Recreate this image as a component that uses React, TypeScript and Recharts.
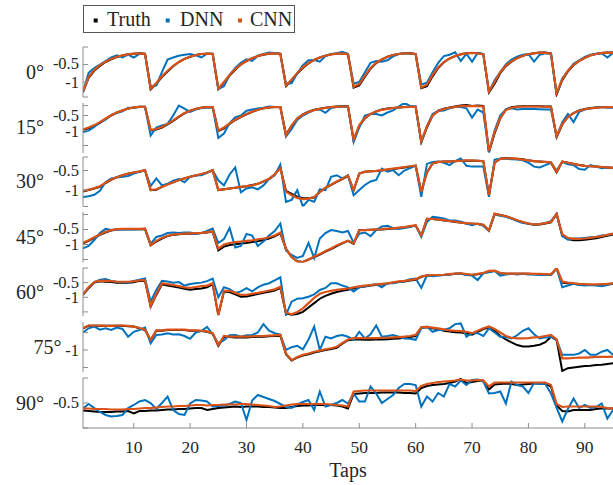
import { LineChart, Line, XAxis, YAxis } from 'recharts';

const FONT = "'Liberation Serif', 'Times New Roman', serif";
const AXIS = '#8c8c8c';
const TEXT = '#262626';
const CHART_W = 613;
const YAXIS_W = 83;

const angleLabels = ['0°', '15°', '30°', '45°', '60°', '75°', '90°'];
const seriesNames = ['Truth', 'DNN', 'CNN'];
const seriesColors = ['#000000', '#0072BD', '#D95319'];
const xTicks = [10, 20, 30, 40, 50, 60, 70, 80, 90];
const tickLabels = [[-0.5, -1], [-0.5, -1], [-0.5, -1], [-0.5, -1], [-0.5, -1], [-1], [-0.5]];

// 0 deg
const truth0 = [
  -1.28, -0.88, -0.68, -0.54, -0.43, -0.35, -0.29, -0.24, -0.21, -0.19, -0.18, -0.19,
  -1.21, -1.05, -0.86, -0.70, -0.55, -0.43, -0.34, -0.28, -0.23, -0.20, -0.19, -0.19,
  -1.20, -1.02, -0.82, -0.65, -0.50, -0.40, -0.32, -0.26, -0.22, -0.19, -0.18, -0.19,
  -1.12, -0.95, -0.76, -0.60, -0.47, -0.37, -0.30, -0.25, -0.21, -0.19, -0.18, -0.20,
  -1.16, -1.10, -0.85, -0.62, -0.46, -0.36, -0.28, -0.23, -0.20, -0.18, -0.17, -0.20,
  -1.18, -1.12, -0.84, -0.60, -0.44, -0.33, -0.26, -0.21, -0.18, -0.17, -0.17, -0.20,
  -1.30, -1.05, -0.75, -0.55, -0.42, -0.32, -0.25, -0.21, -0.18, -0.16, -0.16, -0.18,
  -1.36, -0.95, -0.70, -0.52, -0.40, -0.31, -0.24, -0.20, -0.17, -0.16, -0.16,
];
const dnn0 = [
  -1.30, -0.74, -0.60, -0.50, -0.40, -0.30, -0.24, -0.30, -0.22, -0.30, -0.20, -0.20,
  -1.12, -1.10, -0.72, -0.36, -0.30, -0.25, -0.22, -0.20, -0.24, -0.30, -0.19, -0.20,
  -1.20, -1.12, -0.80, -0.60, -0.45, -0.35, -0.40, -0.25, -0.20, -0.16, -0.17, -0.20,
  -1.05, -1.04, -0.75, -0.52, -0.38, -0.37, -0.42, -0.26, -0.20, -0.18, -0.14, -0.20,
  -1.05, -1.00, -0.72, -0.45, -0.40, -0.42, -0.38, -0.27, -0.20, -0.18, -0.19, -0.20,
  -1.07, -1.02, -0.72, -0.45, -0.26, -0.22, -0.15, -0.40, -0.20, -0.42, -0.17, -0.20,
  -1.28, -0.95, -0.72, -0.50, -0.36, -0.28, -0.22, -0.20, -0.42, -0.22, -0.18, -0.20,
  -1.35, -0.90, -0.68, -0.48, -0.38, -0.28, -0.22, -0.19, -0.18, -0.30, -0.17,
];
const cnn0 = [
  -1.27, -0.86, -0.66, -0.52, -0.42, -0.34, -0.28, -0.24, -0.21, -0.19, -0.19, -0.20,
  -1.20, -1.03, -0.84, -0.68, -0.54, -0.43, -0.34, -0.28, -0.23, -0.20, -0.19, -0.20,
  -1.19, -1.00, -0.80, -0.63, -0.50, -0.40, -0.32, -0.26, -0.21, -0.19, -0.18, -0.20,
  -1.10, -0.93, -0.74, -0.58, -0.46, -0.37, -0.30, -0.25, -0.21, -0.19, -0.18, -0.21,
  -1.14, -1.06, -0.82, -0.60, -0.45, -0.35, -0.28, -0.23, -0.20, -0.18, -0.18, -0.20,
  -1.16, -1.08, -0.80, -0.58, -0.43, -0.33, -0.26, -0.21, -0.18, -0.17, -0.18, -0.21,
  -1.27, -1.00, -0.72, -0.53, -0.41, -0.32, -0.25, -0.20, -0.18, -0.16, -0.17, -0.19,
  -1.32, -0.92, -0.68, -0.51, -0.40, -0.31, -0.24, -0.20, -0.17, -0.16, -0.17,
];

// 15 deg
const truth15 = [
  -0.98, -0.93, -0.85, -0.75, -0.62, -0.50, -0.40, -0.33, -0.27, -0.23, -0.21, -0.21,
  -1.00, -0.97, -0.90, -0.80, -0.68, -0.55, -0.43, -0.34, -0.28, -0.24, -0.22, -0.22,
  -1.02, -0.93, -0.78, -0.65, -0.55, -0.46, -0.38, -0.31, -0.26, -0.23, -0.22, -0.22,
  -1.13, -0.85, -0.60, -0.46, -0.37, -0.31, -0.27, -0.24, -0.22, -0.20, -0.19, -0.19,
  -1.33, -0.85, -0.60, -0.45, -0.36, -0.30, -0.27, -0.25, -0.23, -0.22, -0.21, -0.21,
  -1.39, -0.90, -0.50, -0.34, -0.27, -0.23, -0.20, -0.17, -0.15, -0.18, -0.17, -0.18,
  -1.72, -1.10, -0.60, -0.30, -0.22, -0.20, -0.19, -0.19, -0.19, -0.19, -0.20, -0.20,
  -1.22, -0.80, -0.55, -0.42, -0.33, -0.28, -0.25, -0.23, -0.22, -0.22, -0.22,
];
const dnn15 = [
  -1.05, -1.00, -0.88, -0.72, -0.64, -0.48, -0.42, -0.36, -0.24, -0.25, -0.21, -0.22,
  -1.17, -0.90, -0.83, -0.78, -0.50, -0.17, -0.27, -0.38, -0.30, -0.25, -0.24, -0.23,
  -1.25, -1.10, -0.75, -0.56, -0.50, -0.34, -0.30, -0.27, -0.24, -0.20, -0.22, -0.22,
  -1.20, -0.95, -0.65, -0.50, -0.40, -0.32, -0.30, -0.41, -0.25, -0.22, -0.21, -0.21,
  -1.38, -0.90, -0.50, -0.45, -0.45, -0.50, -0.40, -0.33, -0.20, -0.08, -0.18, -0.20,
  -1.40, -0.85, -0.45, -0.35, -0.33, -0.26, -0.22, -0.22, -0.26, -0.57, -0.30, -0.40,
  -1.72, -1.00, -0.50, -0.30, -0.26, -0.30, -0.28, -0.28, -0.28, -0.29, -0.30, -0.30,
  -1.20, -0.72, -0.45, -0.72, -0.38, -0.30, -0.27, -0.23, -0.22, -0.24, -0.24,
];
const cnn15 = [
  -0.96, -0.90, -0.82, -0.72, -0.60, -0.49, -0.40, -0.33, -0.27, -0.23, -0.21, -0.21,
  -0.98, -0.95, -0.88, -0.78, -0.66, -0.53, -0.42, -0.34, -0.28, -0.24, -0.22, -0.22,
  -1.00, -0.90, -0.76, -0.64, -0.54, -0.45, -0.37, -0.31, -0.26, -0.23, -0.22, -0.22,
  -1.16, -0.83, -0.60, -0.47, -0.38, -0.32, -0.28, -0.25, -0.22, -0.21, -0.20, -0.20,
  -1.30, -0.82, -0.58, -0.45, -0.37, -0.31, -0.28, -0.25, -0.23, -0.22, -0.21, -0.21,
  -1.36, -0.86, -0.50, -0.36, -0.28, -0.24, -0.21, -0.19, -0.18, -0.19, -0.19, -0.20,
  -1.68, -1.05, -0.58, -0.32, -0.24, -0.21, -0.20, -0.20, -0.20, -0.20, -0.21, -0.21,
  -1.20, -0.78, -0.55, -0.42, -0.34, -0.29, -0.26, -0.24, -0.23, -0.22, -0.22,
];

// 30 deg
const truth30 = [
  -1.04, -1.00, -0.96, -0.92, -0.82, -0.74, -0.67, -0.62, -0.58, -0.55, -0.53, -0.49,
  -1.00, -0.99, -0.92, -0.85, -0.80, -0.74, -0.70, -0.66, -0.63, -0.60, -0.55, -0.49,
  -1.00, -0.98, -0.96, -0.94, -0.92, -0.90, -0.87, -0.84, -0.78, -0.72, -0.60, -0.42,
  -1.02, -1.10, -1.17, -1.21, -1.21, -1.19, -1.05, -0.95, -0.87, -0.79, -0.72, -0.64,
  -1.00, -0.58, -0.53, -0.52, -0.51, -0.50, -0.48, -0.46, -0.44, -0.42, -0.40, -0.38,
  -1.04, -0.55, -0.32, -0.28, -0.27, -0.27, -0.26, -0.25, -0.25, -0.25, -0.25, -0.26,
  -1.13, -0.30, -0.20, -0.18, -0.19, -0.20, -0.21, -0.24, -0.26, -0.27, -0.28, -0.30,
  -0.55, -0.27, -0.30, -0.33, -0.36, -0.38, -0.39, -0.40, -0.41, -0.42, -0.43,
];
const dnn30 = [
  -1.18, -1.16, -1.12, -1.02, -0.80, -0.70, -0.68, -0.66, -0.64, -0.58, -0.53, -0.49,
  -0.90, -0.70, -0.88, -0.84, -0.76, -0.72, -0.80, -0.66, -0.62, -0.62, -0.56, -0.50,
  -0.75, -0.88, -0.60, -0.42, -1.06, -0.96, -0.93, -0.98, -0.88, -0.72, -0.62, -0.35,
  -1.30, -1.25, -1.00, -1.42, -1.25, -1.30, -0.98, -1.00, -0.66, -0.62, -0.70, -0.62,
  -1.13, -1.00, -0.87, -0.78, -0.74, -0.45, -0.53, -0.49, -0.62, -0.50, -0.44, -0.38,
  -1.17, -0.33, -0.28, -0.27, -0.30, -0.36, -0.26, -0.19, -0.38, -0.40, -0.40, -0.40,
  -1.17, -0.22, -0.20, -0.20, -0.21, -0.22, -0.24, -0.30, -0.40, -0.42, -0.36, -0.30,
  -0.50, -0.28, -0.34, -0.36, -0.46, -0.48, -0.36, -0.40, -0.44, -0.42, -0.44,
];
const cnn30 = [
  -1.02, -0.99, -0.95, -0.90, -0.81, -0.73, -0.67, -0.62, -0.58, -0.55, -0.52, -0.49,
  -1.00, -0.98, -0.92, -0.86, -0.80, -0.75, -0.70, -0.66, -0.62, -0.59, -0.55, -0.50,
  -1.00, -0.98, -0.96, -0.94, -0.92, -0.90, -0.88, -0.84, -0.78, -0.71, -0.60, -0.44,
  -1.04, -1.13, -1.20, -1.23, -1.22, -1.18, -1.05, -0.94, -0.86, -0.78, -0.71, -0.63,
  -1.00, -0.58, -0.53, -0.52, -0.51, -0.49, -0.47, -0.45, -0.43, -0.41, -0.39, -0.37,
  -1.04, -0.55, -0.32, -0.28, -0.27, -0.27, -0.26, -0.25, -0.24, -0.24, -0.25, -0.26,
  -1.13, -0.30, -0.20, -0.19, -0.19, -0.20, -0.22, -0.24, -0.26, -0.27, -0.28, -0.29,
  -0.53, -0.27, -0.30, -0.33, -0.36, -0.38, -0.39, -0.40, -0.41, -0.42, -0.43,
];

// 45 deg
const truth45 = [
  -0.96, -0.88, -0.78, -0.68, -0.60, -0.53, -0.50, -0.49, -0.49, -0.49, -0.49, -0.48,
  -1.03, -0.90, -0.80, -0.72, -0.68, -0.66, -0.64, -0.64, -0.63, -0.62, -0.60, -0.57,
  -1.20, -1.07, -1.02, -0.99, -0.97, -0.95, -0.92, -0.89, -0.85, -0.80, -0.73, -0.63,
  -1.14, -1.42, -1.56, -1.58, -1.50, -1.42, -1.34, -1.24, -1.15, -1.05, -0.96, -0.88,
  -0.98, -0.52, -0.52, -0.51, -0.50, -0.50, -0.48, -0.47, -0.45, -0.43, -0.40, -0.37,
  -0.70, -0.15, -0.15, -0.17, -0.20, -0.22, -0.25, -0.27, -0.30, -0.31, -0.32, -0.35,
  -0.53, 0.02, -0.02, -0.06, -0.12, -0.20, -0.26, -0.31, -0.34, -0.33, -0.30, -0.26,
  0.02, -0.70, -0.82, -0.86, -0.86, -0.84, -0.82, -0.79, -0.75, -0.71, -0.67,
];
const dnn45 = [
  -1.13, -1.05, -0.85, -0.62, -0.48, -0.52, -0.50, -0.50, -0.50, -0.50, -0.49, -0.48,
  -0.98, -0.75, -0.70, -0.62, -0.60, -0.62, -0.60, -0.60, -0.65, -0.62, -0.55, -0.47,
  -0.95, -0.82, -0.45, -1.10, -1.05, -0.65, -0.70, -1.05, -0.90, -0.70, -0.55, -0.30,
  -1.20, -1.35, -1.45, -1.38, -0.95, -1.45, -0.80, -0.62, -0.52, -0.55, -0.60, -0.55,
  -0.94, -0.64, -0.60, -0.72, -0.52, -0.40, -0.38, -0.46, -0.48, -0.45, -0.42, -0.37,
  -0.75, -0.25, -0.08, -0.10, -0.13, -0.20, -0.20, -0.24, -0.30, -0.36, -0.30, -0.38,
  -0.55, 0.00, -0.04, -0.08, -0.14, -0.22, -0.28, -0.30, -0.33, -0.32, -0.28, -0.22,
  0.02, -0.72, -0.84, -0.80, -0.80, -0.78, -0.76, -0.75, -0.70, -0.68, -0.64,
];
const cnn45 = [
  -0.94, -0.86, -0.76, -0.67, -0.58, -0.52, -0.49, -0.48, -0.48, -0.48, -0.48, -0.47,
  -1.02, -0.88, -0.78, -0.71, -0.67, -0.65, -0.64, -0.63, -0.62, -0.61, -0.59, -0.56,
  -1.14, -1.00, -0.95, -0.92, -0.90, -0.88, -0.86, -0.83, -0.80, -0.76, -0.70, -0.60,
  -1.14, -1.42, -1.57, -1.59, -1.50, -1.40, -1.32, -1.22, -1.13, -1.03, -0.95, -0.87,
  -0.96, -0.53, -0.52, -0.51, -0.50, -0.49, -0.47, -0.46, -0.44, -0.42, -0.39, -0.36,
  -0.70, -0.14, -0.15, -0.17, -0.19, -0.22, -0.24, -0.27, -0.29, -0.30, -0.31, -0.34,
  -0.53, 0.03, -0.02, -0.06, -0.12, -0.19, -0.25, -0.30, -0.33, -0.32, -0.29, -0.25,
  0.02, -0.66, -0.78, -0.81, -0.81, -0.80, -0.78, -0.75, -0.72, -0.68, -0.64,
];

// 60 deg
const truth60 = [
  -0.92, -0.69, -0.50, -0.45, -0.47, -0.48, -0.50, -0.50, -0.50, -0.49, -0.44, -0.44,
  -1.32, -0.92, -0.56, -0.60, -0.63, -0.67, -0.71, -0.74, -0.72, -0.70, -0.66, -0.56,
  -1.61, -0.80, -0.82, -0.90, -0.98, -0.97, -0.93, -0.89, -0.85, -0.81, -0.77, -0.68,
  -1.55, -1.60, -1.57, -1.50, -1.35, -1.20, -1.05, -0.95, -0.88, -0.82, -0.78, -0.74,
  -0.70, -0.66, -0.63, -0.60, -0.58, -0.56, -0.53, -0.50, -0.48, -0.46, -0.43, -0.40,
  -0.30, -0.26, -0.25, -0.25, -0.24, -0.22, -0.20, -0.19, -0.22, -0.24, -0.21, -0.18,
  -0.12, -0.10, -0.18, -0.20, -0.20, -0.20, -0.20, -0.20, -0.21, -0.21, -0.22, -0.23,
  -0.02, -0.50, -0.52, -0.54, -0.56, -0.57, -0.58, -0.58, -0.57, -0.56, -0.54,
];
const dnn60 = [
  -0.92, -0.66, -0.48, -0.40, -0.38, -0.44, -0.47, -0.48, -0.50, -0.44, -0.40, -0.36,
  -1.15, -0.75, -0.44, -0.46, -0.50, -0.48, -0.60, -0.55, -0.52, -0.50, -0.45, -0.36,
  -1.00, -0.66, -0.72, -0.85, -0.80, -0.69, -0.80, -0.66, -0.57, -0.52, -0.42, -0.32,
  -1.60, -1.15, -1.05, -1.03, -0.98, -0.90, -0.75, -0.68, -0.52, -0.52, -0.60, -0.66,
  -0.80, -0.66, -0.62, -0.58, -0.56, -0.66, -0.52, -0.52, -0.48, -0.45, -0.38, -0.36,
  -0.68, -0.25, -0.28, -0.26, -0.24, -0.22, -0.20, -0.20, -0.24, -0.26, -0.41, -0.18,
  -0.15, -0.10, -0.26, -0.22, -0.20, -0.22, -0.20, -0.22, -0.22, -0.24, -0.24, -0.24,
  0.00, -0.66, -0.60, -0.54, -0.58, -0.60, -0.58, -0.60, -0.62, -0.58, -0.52,
];
const cnn60 = [
  -0.90, -0.66, -0.48, -0.43, -0.44, -0.45, -0.47, -0.47, -0.47, -0.46, -0.42, -0.42,
  -1.30, -0.88, -0.52, -0.55, -0.58, -0.62, -0.66, -0.68, -0.65, -0.62, -0.60, -0.52,
  -1.60, -0.78, -0.78, -0.85, -0.92, -0.92, -0.88, -0.85, -0.81, -0.77, -0.73, -0.64,
  -1.52, -1.58, -1.50, -1.38, -1.20, -1.02, -0.88, -0.82, -0.78, -0.75, -0.72, -0.70,
  -0.66, -0.63, -0.60, -0.58, -0.56, -0.54, -0.52, -0.49, -0.46, -0.44, -0.41, -0.38,
  -0.29, -0.25, -0.24, -0.24, -0.23, -0.21, -0.19, -0.18, -0.21, -0.23, -0.20, -0.17,
  -0.10, -0.09, -0.17, -0.19, -0.19, -0.19, -0.19, -0.19, -0.20, -0.20, -0.21, -0.22,
  0.00, -0.46, -0.50, -0.52, -0.54, -0.55, -0.56, -0.56, -0.55, -0.54, -0.52,
];

// 75 deg
const truth75 = [
  -0.38, -0.31, -0.31, -0.31, -0.31, -0.31, -0.31, -0.31, -0.32, -0.33, -0.38, -0.43,
  -0.72, -0.45, -0.45, -0.43, -0.43, -0.43, -0.43, -0.45, -0.45, -0.46, -0.48, -0.53,
  -0.88, -0.62, -0.63, -0.64, -0.64, -0.64, -0.63, -0.62, -0.62, -0.61, -0.60, -0.59,
  -1.12, -1.30, -1.22, -1.16, -1.12, -1.07, -1.04, -1.00, -0.97, -0.94, -0.82, -0.72,
  -0.70, -0.70, -0.71, -0.71, -0.70, -0.70, -0.69, -0.68, -0.67, -0.65, -0.63, -0.60,
  -0.36, -0.36, -0.38, -0.41, -0.45, -0.47, -0.49, -0.50, -0.52, -0.56, -0.48, -0.40,
  -0.36, -0.45, -0.60, -0.70, -0.78, -0.86, -0.90, -0.90, -0.88, -0.85, -0.78, -0.62,
  -0.72, -1.60, -1.52, -1.50, -1.48, -1.46, -1.45, -1.43, -1.42, -1.40, -1.38,
];
const dnn75 = [
  -0.50, -0.38, -0.33, -0.42, -0.38, -0.43, -0.36, -0.40, -0.62, -0.48, -0.43, -0.36,
  -0.81, -0.57, -0.56, -0.52, -0.56, -0.55, -0.60, -0.68, -0.50, -0.46, -0.34, -0.55,
  -0.81, -0.72, -0.58, -0.57, -0.62, -0.58, -0.57, -0.50, -0.26, -0.45, -0.52, -0.56,
  -1.00, -0.92, -0.88, -0.98, -0.70, -0.33, -1.00, -0.62, -0.67, -0.60, -0.57, -0.62,
  -0.71, -0.48, -0.67, -0.55, -0.30, -0.62, -0.60, -0.57, -0.62, -0.67, -0.68, -0.71,
  -0.38, -0.33, -0.48, -0.43, -0.43, -0.38, -0.26, -0.24, -0.62, -0.52, -0.52, -0.60,
  -0.38, -0.50, -0.62, -0.63, -0.67, -0.58, -0.45, -0.38, -0.55, -0.67, -0.64, -0.62,
  -0.71, -1.14, -1.14, -1.14, -1.10, -1.00, -1.14, -1.14, -1.05, -1.00, -1.14,
];
const cnn75 = [
  -0.37, -0.30, -0.30, -0.30, -0.31, -0.31, -0.30, -0.30, -0.31, -0.33, -0.37, -0.42,
  -0.71, -0.44, -0.44, -0.42, -0.42, -0.42, -0.42, -0.44, -0.44, -0.45, -0.47, -0.52,
  -0.86, -0.60, -0.62, -0.62, -0.62, -0.62, -0.61, -0.60, -0.60, -0.59, -0.58, -0.57,
  -1.10, -1.29, -1.20, -1.14, -1.10, -1.05, -1.02, -0.98, -0.95, -0.91, -0.80, -0.70,
  -0.66, -0.66, -0.66, -0.66, -0.66, -0.65, -0.65, -0.64, -0.63, -0.62, -0.60, -0.57,
  -0.35, -0.34, -0.36, -0.38, -0.41, -0.44, -0.45, -0.46, -0.48, -0.52, -0.45, -0.38,
  -0.33, -0.40, -0.50, -0.60, -0.65, -0.67, -0.67, -0.66, -0.64, -0.63, -0.60, -0.57,
  -0.70, -1.24, -1.24, -1.23, -1.22, -1.22, -1.21, -1.20, -1.20, -1.20, -1.19,
];

// 90 deg
const truth90 = [
  -0.65, -0.66, -0.67, -0.68, -0.68, -0.68, -0.67, -0.67, -0.66, -0.71, -0.66, -0.66,
  -0.65, -0.65, -0.64, -0.63, -0.63, -0.62, -0.62, -0.61, -0.60, -0.60, -0.64, -0.62,
  -0.60, -0.59, -0.58, -0.57, -0.58, -0.57, -0.57, -0.57, -0.58, -0.58, -0.59, -0.60,
  -0.60, -0.58, -0.56, -0.55, -0.55, -0.54, -0.54, -0.54, -0.54, -0.55, -0.57, -0.61,
  -0.32, -0.31, -0.30, -0.30, -0.30, -0.29, -0.29, -0.29, -0.29, -0.30, -0.30, -0.31,
  -0.20, -0.16, -0.14, -0.13, -0.12, -0.10, -0.07, -0.02, -0.10, -0.08, -0.06, -0.05,
  -0.23, -0.13, -0.12, -0.11, -0.12, -0.14, -0.13, -0.12, -0.11, -0.11, -0.11, -0.17,
  -0.55, -0.66, -0.67, -0.64, -0.64, -0.64, -0.64, -0.62, -0.61, -0.61, -0.61,
];
const dnn90 = [
  -0.61, -0.52, -0.60, -0.68, -0.74, -0.77, -0.76, -0.74, -0.60, -0.54, -0.47, -0.44,
  -0.50, -0.62, -0.50, -0.37, -0.64, -0.72, -0.74, -0.51, -0.44, -0.45, -0.47, -0.57,
  -0.56, -0.55, -0.52, -0.47, -0.50, -0.84, -0.45, -0.34, -0.38, -0.42, -0.46, -0.52,
  -0.58, -0.60, -0.53, -0.48, -0.44, -0.64, -0.27, -0.57, -0.54, -0.50, -0.44, -0.51,
  -0.31, -0.47, -0.47, -0.17, -0.31, -0.50, -0.42, -0.34, -0.20, -0.12, -0.12, -0.14,
  -0.57, -0.37, -0.47, -0.30, -0.37, -0.12, -0.17, -0.05, -0.14, -0.04, -0.03, -0.07,
  -0.31, -0.30, -0.27, -0.51, -0.07, -0.14, -0.17, -0.30, -0.10, -0.12, -0.12, -0.31,
  -0.60, -0.87, -0.62, -0.41, -0.60, -0.54, -0.60, -0.58, -0.51, -0.81, -0.64,
];
const cnn90 = [
  -0.61, -0.61, -0.62, -0.62, -0.62, -0.63, -0.63, -0.63, -0.62, -0.62, -0.61, -0.60,
  -0.60, -0.59, -0.58, -0.57, -0.57, -0.56, -0.56, -0.55, -0.54, -0.54, -0.55, -0.54,
  -0.54, -0.53, -0.53, -0.53, -0.52, -0.52, -0.53, -0.54, -0.55, -0.56, -0.58, -0.57,
  -0.55, -0.53, -0.52, -0.52, -0.52, -0.52, -0.52, -0.52, -0.53, -0.54, -0.55, -0.57,
  -0.27, -0.26, -0.25, -0.25, -0.25, -0.25, -0.25, -0.25, -0.25, -0.25, -0.25, -0.26,
  -0.16, -0.12, -0.10, -0.08, -0.07, -0.06, -0.05, -0.03, -0.05, -0.05, -0.04, -0.05,
  -0.17, -0.09, -0.09, -0.09, -0.09, -0.09, -0.09, -0.09, -0.09, -0.09, -0.09, -0.14,
  -0.52, -0.58, -0.57, -0.57, -0.57, -0.57, -0.57, -0.57, -0.58, -0.60, -0.61,
];

const truthSets = [truth0, truth15, truth30, truth45, truth60, truth75, truth90];
const dnnSets = [dnn0, dnn15, dnn30, dnn45, dnn60, dnn75, dnn90];
const cnnSets = [cnn0, cnn15, cnn30, cnn45, cnn60, cnn75, cnn90];

// pixel layout of each stacked axes (page coordinates)
const panels = [
  { top: 47, bottom: 97, domain: [-1.43, 0], ticks: [0, -0.5, -1, -1.43], labelRight: 44 },
  { top: 102.5, bottom: 152.5, domain: [-1.75, -0.083], ticks: [-0.17, -0.5, -1, -1.5], labelRight: 44 },
  { top: 157, bottom: 206.5, domain: [-1.42, -0.154], ticks: [-0.154, -0.5, -1, -1.42], labelRight: 44 },
  { top: 212, bottom: 262.5, domain: [-1.6, 0.083], ticks: [0, -0.5, -1, -1.5], labelRight: 44 },
  { top: 268, bottom: 316, domain: [-1.64, 0], ticks: [0, -0.5, -1, -1.5], labelRight: 44 },
  { top: 322, bottom: 372, domain: [-1.63, -0.2], ticks: [-0.5, -1, -1.5], labelRight: 61.5 },
  { top: 378, bottom: 428, domain: [-1, 0], ticks: [0, -0.5, -1], labelRight: 44 },
];

const MT = 2;
const XAXIS_H = 57;

function makeYTick(labels: number[]) {
  return (props: any) => {
    const { x, y, payload } = props;
    const show = labels.includes(payload.value);
    // nudge the two stacked labels slightly apart, they sit very close
    const nudge = payload.value === -0.5 ? -0.5 : payload.value === -1 ? 0.5 : 0;
    return (
      <g>
        <line x1={x} x2={x + 5} y1={y} y2={y} stroke={AXIS} strokeWidth={1} />
        {show && (
          <text x={x - 4} y={y + 5.5 + nudge} textAnchor="end" fontFamily={FONT} fontSize={16.5} fill={TEXT}>
            {String(payload.value)}
          </text>
        )}
      </g>
    );
  };
}

const renderXTick = (props: any) => {
  const { x, y, payload } = props;
  return (
    <g>
      <line x1={x} x2={x} y1={y} y2={y - 5} stroke={AXIS} strokeWidth={1} />
      <text x={x} y={y + 25} textAnchor="middle" fontFamily={FONT} fontSize={17.5} fill={TEXT}>
        {payload.value}
      </text>
    </g>
  );
};

function Panel({ index }: { index: number }) {
  const p = panels[index];
  const last = index === panels.length - 1;
  const plotH = p.bottom - p.top;
  const height = MT + plotH + (last ? XAXIS_H : MT);
  const rows = truthSets[index].map((v, i) => ({
    tap: i + 1,
    truth: v,
    dnn: dnnSets[index][i],
    cnn: cnnSets[index][i],
  }));
  const keys = ['truth', 'dnn', 'cnn'];
  const widths = [2, 2, 2.2];

  return (
    <div style={{ position: 'absolute', left: 0, top: p.top - MT }}>
      <LineChart width={CHART_W} height={height} data={rows} margin={{ top: MT, right: 0, bottom: last ? 0 : MT, left: 0 }}>
        <XAxis
          dataKey="tap"
          type="number"
          domain={[1, 95]}
          allowDataOverflow
          hide={!last}
          ticks={xTicks}
          interval={0}
          height={XAXIS_H}
          tickSize={0}
          tickMargin={0}
          tickLine={false}
          axisLine={{ stroke: AXIS, strokeWidth: 1 }}
          tick={renderXTick}
        />
        <YAxis
          type="number"
          domain={p.domain}
          allowDataOverflow
          ticks={p.ticks}
          interval={0}
          width={YAXIS_W}
          tickSize={0}
          tickMargin={0}
          tickLine={false}
          axisLine={{ stroke: AXIS, strokeWidth: 1 }}
          tick={makeYTick(tickLabels[index])}
        />
        {keys.map((k, i) => (
          <Line
            key={k}
            dataKey={k}
            name={seriesNames[i]}
            type="linear"
            stroke={seriesColors[i]}
            strokeWidth={widths[i]}
            dot={false}
            isAnimationActive={false}
          />
        ))}
      </LineChart>
    </div>
  );
}

export default function App() {
  const legendX = [95.7, 167.7, 240];
  const legendTextX = [107, 180, 250];
  return (
    <div style={{ position: 'absolute', left: 0, top: 0, width: 613, height: 485, overflow: 'hidden', background: '#fff' }}>
      {panels.map((_, i) => (
        <Panel key={i} index={i} />
      ))}
      <svg width={613} height={485} style={{ position: 'absolute', left: 0, top: 0, pointerEvents: 'none' }}>
        {panels.map((p, i) => (
          <text
            key={angleLabels[i]}
            x={p.labelRight}
            y={(p.top + p.bottom) / 2 + 6.6}
            textAnchor="end"
            fontFamily={FONT}
            fontSize={20}
            fill={TEXT}
          >
            {angleLabels[i]}
          </text>
        ))}
        <text x={348} y={477} textAnchor="middle" fontFamily={FONT} fontSize={20} fill={TEXT}>
          Taps
        </text>
        <rect x={83.5} y={5.5} width={211} height={27} fill="#fff" stroke="#555" strokeWidth={1} />
        {seriesNames.map((name, i) => (
          <g key={name}>
            <rect x={legendX[i] - 2} y={18.5} width={4} height={4} fill={seriesColors[i]} />
            <text x={legendTextX[i]} y={26} fontFamily={FONT} fontSize={20} fill={TEXT}>
              {name}
            </text>
          </g>
        ))}
      </svg>
    </div>
  );
}
